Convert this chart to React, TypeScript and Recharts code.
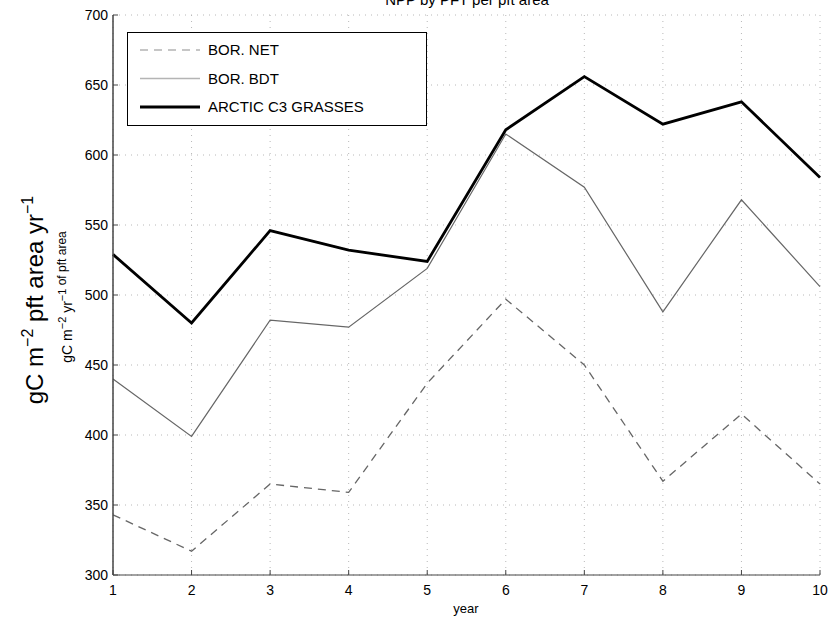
import { LineChart, Line, XAxis, YAxis, CartesianGrid, Legend } from "recharts";

const years = [1, 2, 3, 4, 5, 6, 7, 8, 9, 10];
const borNet = [343, 317, 365, 359, 437, 497, 450, 367, 415, 365];
const borBdt = [440, 399, 482, 477, 519, 615, 577, 488, 568, 506];
const arcticC3 = [529, 480, 546, 532, 524, 618, 656, 622, 638, 584];
const yTicks = [300, 350, 400, 450, 500, 550, 600, 650, 700];

const font = "'Liberation Sans', Arial, Helvetica, sans-serif";

const data = years.map((year, i) => ({
  year,
  net: borNet[i],
  bdt: borBdt[i],
  arctic: arcticC3[i],
}));

const legendItems = [
  { label: "BOR. NET", color: "#b4b4b4", width: 1.5, dash: "8 6" },
  { label: "BOR. BDT", color: "#b4b4b4", width: 1.5, dash: undefined },
  { label: "ARCTIC C3 GRASSES", color: "#000", width: 3, dash: undefined },
];

function LegendBox() {
  return (
    <svg width={300} height={94} style={{ display: "block", fontFamily: font }}>
      <rect x={0.5} y={0.5} width={299} height={93} fill="#fff" stroke="#000" strokeWidth={1} />
      {legendItems.map((item, i) => (
        <g key={item.label}>
          <line
            x1={13}
            x2={73}
            y1={18 + i * 28.5}
            y2={18 + i * 28.5}
            stroke={item.color}
            strokeWidth={item.width}
            strokeDasharray={item.dash}
          />
          <text x={81} y={23 + i * 28.5} fontSize={15} fill="#000">
            {item.label}
          </text>
        </g>
      ))}
    </svg>
  );
}

const noTick = () => <g />;

export default function App() {
  return (
    <div style={{ position: "absolute", left: 0, top: 0, width: 829, height: 617, background: "#fff" }}>
      <LineChart
        width={829}
        height={617}
        data={data}
        margin={{ top: 15, right: 9, left: 0, bottom: 0 }}
        style={{ fontFamily: font }}
      >
        <CartesianGrid stroke="#b8b8b8" strokeDasharray="1 5" />
        <XAxis
          dataKey="year"
          type="number"
          domain={[1, 10]}
          ticks={years}
          height={42}
          tickSize={-5}
          tickMargin={15}
          axisLine={{ stroke: "#444" }}
          tickLine={{ stroke: "#444" }}
          tick={{ fill: "#000", fontSize: 14 }}
        />
        <XAxis
          xAxisId="top"
          orientation="top"
          type="number"
          domain={[1, 10]}
          ticks={years}
          height={0}
          tickSize={-5}
          axisLine={{ stroke: "#444" }}
          tickLine={{ stroke: "#444" }}
          tick={noTick}
        />
        <YAxis
          type="number"
          domain={[300, 700]}
          ticks={yTicks}
          width={113}
          tickSize={-5}
          tickMargin={10}
          axisLine={{ stroke: "#444", strokeWidth: 1.5 }}
          tickLine={{ stroke: "#444" }}
          tick={{ fill: "#000", fontSize: 14 }}
        />
        <YAxis
          yAxisId="right"
          orientation="right"
          type="number"
          domain={[300, 700]}
          ticks={yTicks}
          width={0}
          tickSize={-5}
          axisLine={{ stroke: "#444" }}
          tickLine={{ stroke: "#444" }}
          tick={noTick}
        />
        <Legend
          layout="vertical"
          align="center"
          verticalAlign="middle"
          content={() => <LegendBox />}
          wrapperStyle={{ position: "absolute", left: 127, top: 32, width: 300, height: 94 }}
        />
        <Line
          dataKey="net"
          stroke="#666"
          strokeWidth={1.3}
          strokeDasharray="8 6"
          dot={false}
          isAnimationActive={false}
        />
        <Line dataKey="bdt" stroke="#666" strokeWidth={1.2} dot={false} isAnimationActive={false} />
        <Line dataKey="arctic" stroke="#000" strokeWidth={2.8} dot={false} isAnimationActive={false} />
      </LineChart>
      <svg
        width={829}
        height={617}
        style={{ position: "absolute", left: 0, top: 0, pointerEvents: "none", fontFamily: font }}
      >
        <text x={467} y={5} textAnchor="middle" fontSize={15} fill="#000">
          NPP by PFT per pft area
        </text>
        <text x={466} y={613} textAnchor="middle" fontSize={13} fill="#000">
          year
        </text>
        <text
          transform="translate(43,300) rotate(-90)"
          textAnchor="middle"
          fontSize={24}
          fill="#000"
        >
          gC m<tspan dy={-10} fontSize={16}>−2</tspan>
          <tspan dy={10}> pft area yr</tspan>
          <tspan dy={-10} fontSize={16}>−1</tspan>
        </text>
        <text
          transform="translate(72,297) rotate(-90)"
          textAnchor="middle"
          fontSize={14}
          fill="#000"
        >
          gC m<tspan dy={-6} fontSize={11}>−2</tspan>
          <tspan dy={6}> yr</tspan>
          <tspan dy={-6} fontSize={11}>−1</tspan>
          <tspan dy={0} fontSize={12}> of pft area</tspan>
        </text>
      </svg>
    </div>
  );
}
